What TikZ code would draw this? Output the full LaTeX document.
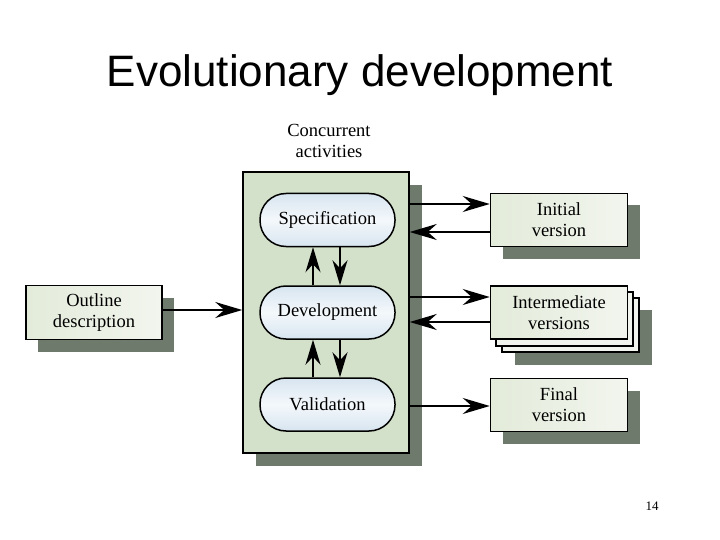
\documentclass[tikz,border=0pt]{standalone}
\usepackage{fontspec}
\setmainfont{Liberation Serif}
\newfontfamily\titlefont{Liberation Sans}
\usetikzlibrary{arrows.meta,shadows}
\definecolor{boxgreen}{HTML}{E3EBDA}
\definecolor{boxgreenl}{HTML}{F2F5EE}
\definecolor{actgreen}{HTML}{D3E1CA}
\definecolor{pillblue}{HTML}{D7E5F0}
\definecolor{pillbluel}{HTML}{F4F8FB}
\definecolor{shadowc}{HTML}{6E7A6B}
\begin{document}
\begin{tikzpicture}[x=1pt,y=-1pt,
  txt/.style={font=\fontsize{18.5}{21}\selectfont, align=center},
  vbox/.style={txt, draw, line width=1.5pt, left color=boxgreen, right color=boxgreenl,
     minimum width=137pt, minimum height=53pt, inner sep=0pt},
  shad/.style={drop shadow={shadow xshift=12pt, shadow yshift=-12pt, fill=shadowc, opacity=1}},
  pill/.style={txt, draw, line width=1.5pt, top color=pillblue, bottom color=pillblue, middle color=pillbluel,
     minimum width=135pt, minimum height=53pt, rounded corners=26pt, inner sep=0pt},
  arr/.style={line width=1.7pt, -{Stealth[length=27pt,width=16pt,inset=9pt]}},
  varr/.style={line width=1.7pt, -{Stealth[length=25pt,width=15pt,inset=8pt]}}
]
\useasboundingbox (0,0) rectangle (720,540);
\fill[white] (0,0) rectangle (720,540);

\node[font=\titlefont\fontsize{44}{48}\selectfont, anchor=base] (title) at (360,87) {Evolutionary development};

\node[txt, anchor=center] (conc) at (329,141) {Concurrent\\activities};

% concurrent activities box
\node[draw, line width=1.5pt, fill=actgreen, minimum width=166pt, minimum height=281pt,
      drop shadow={shadow xshift=13pt, shadow yshift=-13pt, fill=shadowc, opacity=1}] (act) at (326,312.5) {};

\node[pill] (spec) at (327.5,220) {Specification};
\node[pill] (dev) at (327.5,312.5) {Development};
\node[pill] (val) at (327.5,404.5) {Validation};

\draw[varr] (dev.north -| 313,0) -- (spec.south -| 313,0);
\draw[varr] (spec.south -| 340,0) -- (dev.north -| 340,0);
\draw[varr] (val.north -| 313,0) -- (dev.south -| 313,0);
\draw[varr] (dev.south -| 340,0) -- (val.north -| 340,0);

% outline
\node[vbox, shad, minimum width=136pt, minimum height=54pt] (out) at (94,312.5) {Outline\\description};
\draw[arr] (out.east |- 0,310) -- (act.west |- 0,310);

% initial
\node[vbox, shad] (init) at (559,220) {Initial\\version};
\draw[arr] (act.east |- 0,204) -- (init.west |- 0,204);
\draw[arr] (init.west |- 0,232) -- (act.east |- 0,232);

% intermediate (stacked)
\fill[shadowc] (515,310) rectangle (652,365);
\draw[line width=1.5pt, fill=boxgreenl] (502,298) rectangle (639,352);
\draw[line width=1.5pt, fill=boxgreenl] (496,292) rectangle (633,346);
\node[vbox] (inter) at (559,312.5) {Intermediate\\versions};
\draw[arr] (act.east |- 0,297) -- (inter.west |- 0,297);
\draw[arr] (inter.west |- 0,322) -- (act.east |- 0,322);

% final
\node[vbox, shad] (fin) at (559,405) {Final\\version};
\draw[arr] (act.east |- 0,406) -- (fin.west |- 0,406);

\node[font=\fontsize{13}{15}\selectfont, anchor=base] (pg) at (652,510) {14};
\end{tikzpicture}
\end{document}
